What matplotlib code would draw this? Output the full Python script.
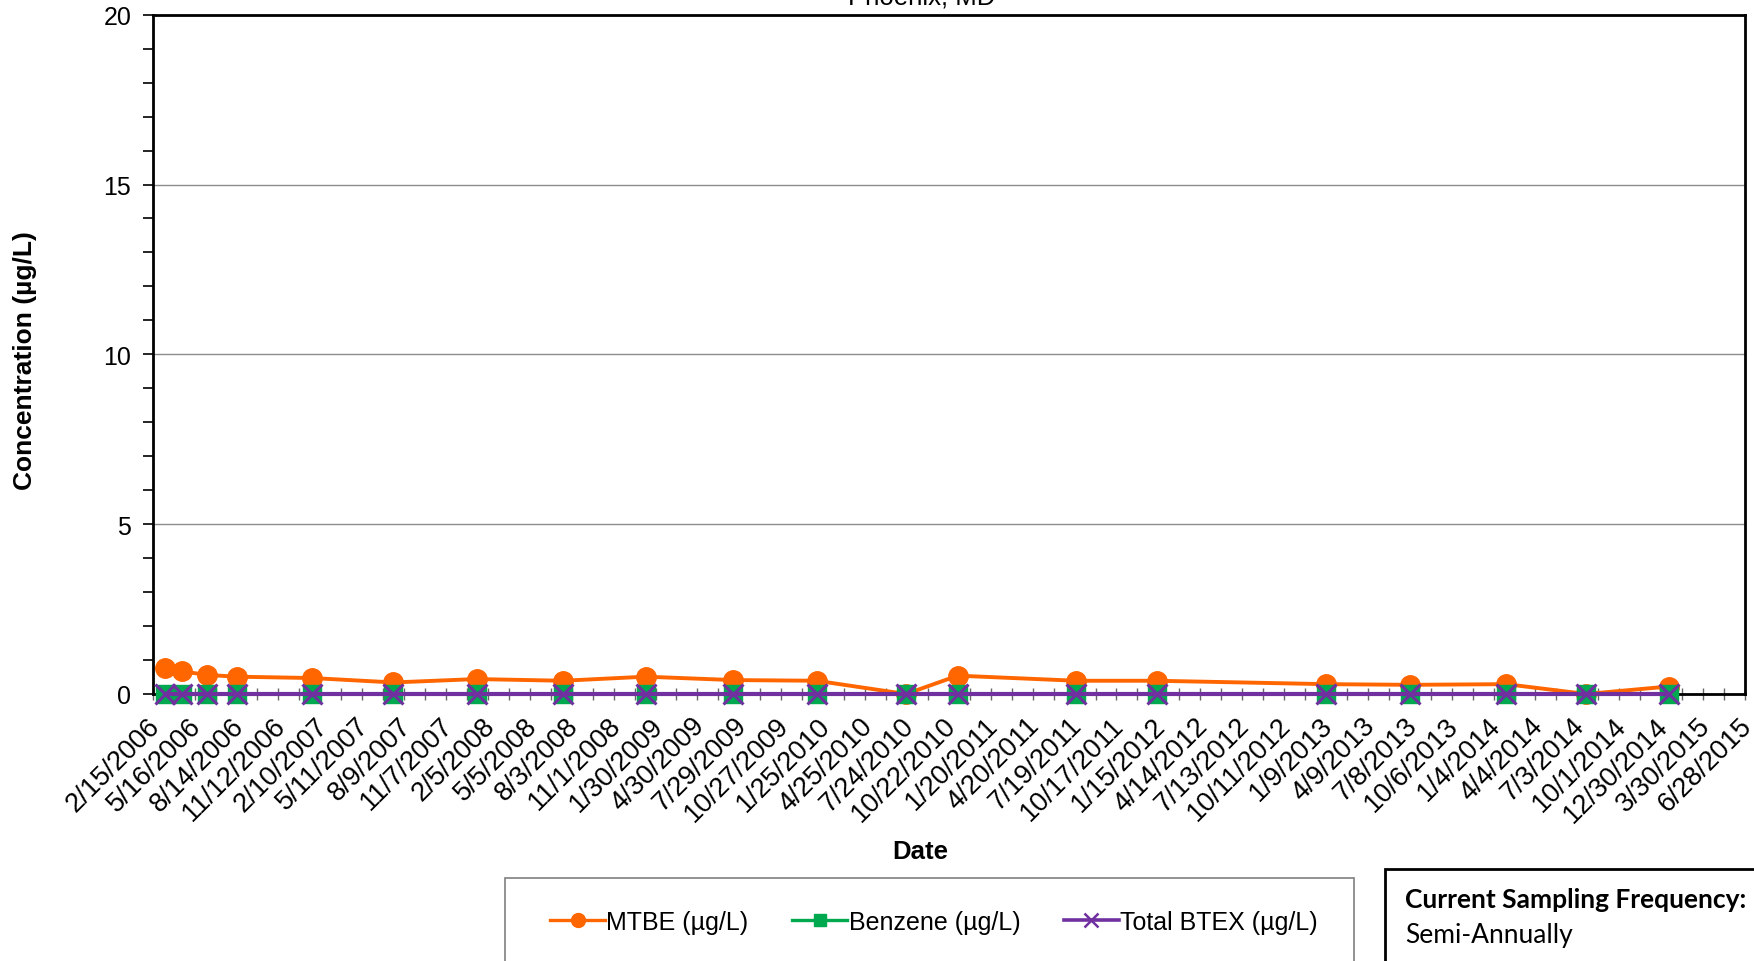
import matplotlib
matplotlib.use("Agg")
import matplotlib.pyplot as plt
import matplotlib.dates as mdates
import matplotlib.transforms as mtransforms
from matplotlib.patches import Rectangle
from matplotlib.lines import Line2D
import pandas as pd

plt.rcParams['font.family'] = ['Liberation Sans', 'DejaVu Sans']

# ---------------- data ----------------
sample_dates = ['2006-03-13', '2006-04-18', '2006-06-12', '2006-08-14', '2007-01-23',
                '2007-07-17', '2008-01-12', '2008-07-15', '2009-01-09', '2009-07-16',
                '2010-01-11', '2010-07-22', '2010-11-10', '2011-07-22', '2012-01-12',
                '2013-01-09', '2013-07-09', '2014-01-31', '2014-07-22', '2015-01-15']
mtbe = [0.77, 0.67, 0.56, 0.51, 0.47, 0.34, 0.44, 0.39, 0.51, 0.41,
        0.39, 0.00, 0.54, 0.39, 0.39, 0.29, 0.27, 0.29, 0.00, 0.22]
benzene = [0.0, 0.0, 0.0, 0.0, 0.0, 0.0, 0.0, 0.0, 0.0, 0.0,
           0.0, 0.0, 0.0, 0.0, 0.0, 0.0, 0.0, 0.0, 0.0, 0.0]
total_btex = [0.0, 0.0, 0.0, 0.0, 0.0, 0.0, 0.0, 0.0, 0.0, 0.0,
              0.0, 0.0, 0.0, 0.0, 0.0, 0.0, 0.0, 0.0, 0.0, 0.0]

tick_labels = ['2/15/2006', '5/16/2006', '8/14/2006', '11/12/2006', '2/10/2007', '5/11/2007',
               '8/9/2007', '11/7/2007', '2/5/2008', '5/5/2008', '8/3/2008', '11/1/2008',
               '1/30/2009', '4/30/2009', '7/29/2009', '10/27/2009', '1/25/2010', '4/25/2010',
               '7/24/2010', '10/22/2010', '1/20/2011', '4/20/2011', '7/19/2011', '10/17/2011',
               '1/15/2012', '4/14/2012', '7/13/2012', '10/11/2012', '1/9/2013', '4/9/2013',
               '7/8/2013', '10/6/2013', '1/4/2014', '4/4/2014', '7/3/2014', '10/1/2014',
               '12/30/2014', '3/30/2015', '6/28/2015']
y_ticks = [0, 5, 10, 15, 20]

title = 'Phoenix, MD'
series_names = ['MTBE (µg/L)', 'Benzene (µg/L)', 'Total BTEX (µg/L)']

# ---------------- styles ----------------
C_MTBE = '#FF6600'
C_BENZ = '#00A84F'
C_BTEX = '#7030A0'

W, H = 1754, 962
fig = plt.figure(figsize=(W / 100, H / 100), dpi=100)

ax_l, ax_r, ax_t, ax_b = 152.7, 1745, 15.7, 695
ax = fig.add_axes([ax_l / W, 1 - ax_b / H, (ax_r - ax_l) / W, (ax_b - ax_t) / H])

x = pd.to_datetime(sample_dates)
tick_dates = pd.to_datetime(tick_labels, format='%m/%d/%Y')

ax.plot(x, mtbe, color=C_MTBE, lw=2.8, marker='o', ms=14, mec=C_MTBE, mfc=C_MTBE,
        zorder=3, clip_on=False)
ax.plot(x, benzene, color=C_BENZ, lw=2.8, marker='s', ms=12.5, mec=C_BENZ, mfc=C_BENZ,
        zorder=4, clip_on=False)
ax.plot(x, total_btex, color=C_BTEX, lw=3.0, marker='x', ms=15, mew=2.2, mec=C_BTEX,
        zorder=5, clip_on=False)

ax.set_xlim(tick_dates[0], tick_dates[-1])
ax.set_ylim(y_ticks[0], y_ticks[-1])

# x ticks
major_locs = mdates.date2num(tick_dates)
minor_locs = (major_locs[:-1] + major_locs[1:]) / 2
ax.xaxis.set_major_locator(matplotlib.ticker.FixedLocator(major_locs))
ax.xaxis.set_minor_locator(matplotlib.ticker.FixedLocator(minor_locs))
ax.set_xticklabels(tick_labels, rotation=45, ha='right', va='top',
                   rotation_mode='anchor', fontsize=19.5)
ax.tick_params(axis='x', which='both', direction='inout', length=9, width=1.0,
               color='#666666', pad=5)
offset = mtransforms.ScaledTranslation(-6 / 100, -5 / 100, fig.dpi_scale_trans)
for lbl in ax.get_xticklabels():
    lbl.set_transform(lbl.get_transform() + offset)

# y ticks
ax.set_yticks(y_ticks)
ax.set_yticks(range(0, 21), minor=True)
ax.tick_params(axis='y', which='both', direction='out', length=7.5, width=1.2,
               color='black', labelsize=18, pad=8)
ax.yaxis.grid(True, which='major', color='#8c8c8c', lw=1.0)
ax.set_axisbelow(True)

for s in ax.spines.values():
    s.set_linewidth(2.0)
    s.set_color('black')

ax.set_xlabel('Date', fontsize=18.5, fontweight='bold', va='center')
ax.xaxis.set_label_coords((920.6 - ax_l) / (ax_r - ax_l), -(852 - ax_b) / (ax_b - ax_t))
ax.set_ylabel('Concentration (µg/L)', fontsize=19, fontweight='bold', va='center')
ax.yaxis.set_label_coords((24.6 - ax_l) / (ax_r - ax_l), (ax_b - 361) / (ax_b - ax_t))

# title (cut off at top)
fig.text(922 / W, 1 - 4 / H, title, ha='center', va='baseline', fontsize=18.5)

# legend box
leg_left, leg_right, leg_top = 504.5, 1353.5, 879
fig.patches.append(Rectangle((leg_left / W, -0.05), (leg_right - leg_left) / W,
                             1 - leg_top / H + 0.05, transform=fig.transFigure,
                             fill=True, facecolor='white', edgecolor='#7f7f7f', lw=1.2))
handles = [
    Line2D([], [], color=C_MTBE, lw=2.4, marker='o', ms=10, mec=C_MTBE, mfc=C_MTBE),
    Line2D([], [], color=C_BENZ, lw=2.4, marker='s', ms=9, mec=C_BENZ, mfc=C_BENZ),
    Line2D([], [], color=C_BTEX, lw=2.6, marker='x', ms=10, mew=1.8, mec=C_BTEX),
]
fig.legend(handles, series_names, loc='center', ncol=3, frameon=False,
           bbox_to_anchor=(934 / W, 1 - 923 / H), fontsize=18,
           handlelength=2.2, handletextpad=0.05, columnspacing=1.75)

# sampling frequency box
box_left, box_top = 1385, 870
fig.patches.append(Rectangle((box_left / W, -0.05), 0.3, 1 - box_top / H + 0.05,
                             transform=fig.transFigure, fill=True, facecolor='white',
                             edgecolor='black', lw=2.0))
fig.text(1405 / W, 1 - 900 / H, 'Current Sampling Frequency:', ha='left', va='center',
         fontsize=19, fontweight='bold', family=['Lato', 'DejaVu Sans'])
fig.text(1405 / W, 1 - 936 / H, 'Semi-Annually', ha='left', va='center',
         fontsize=19, family=['Lato', 'DejaVu Sans'])

fig.savefig('out.png', dpi=100)
